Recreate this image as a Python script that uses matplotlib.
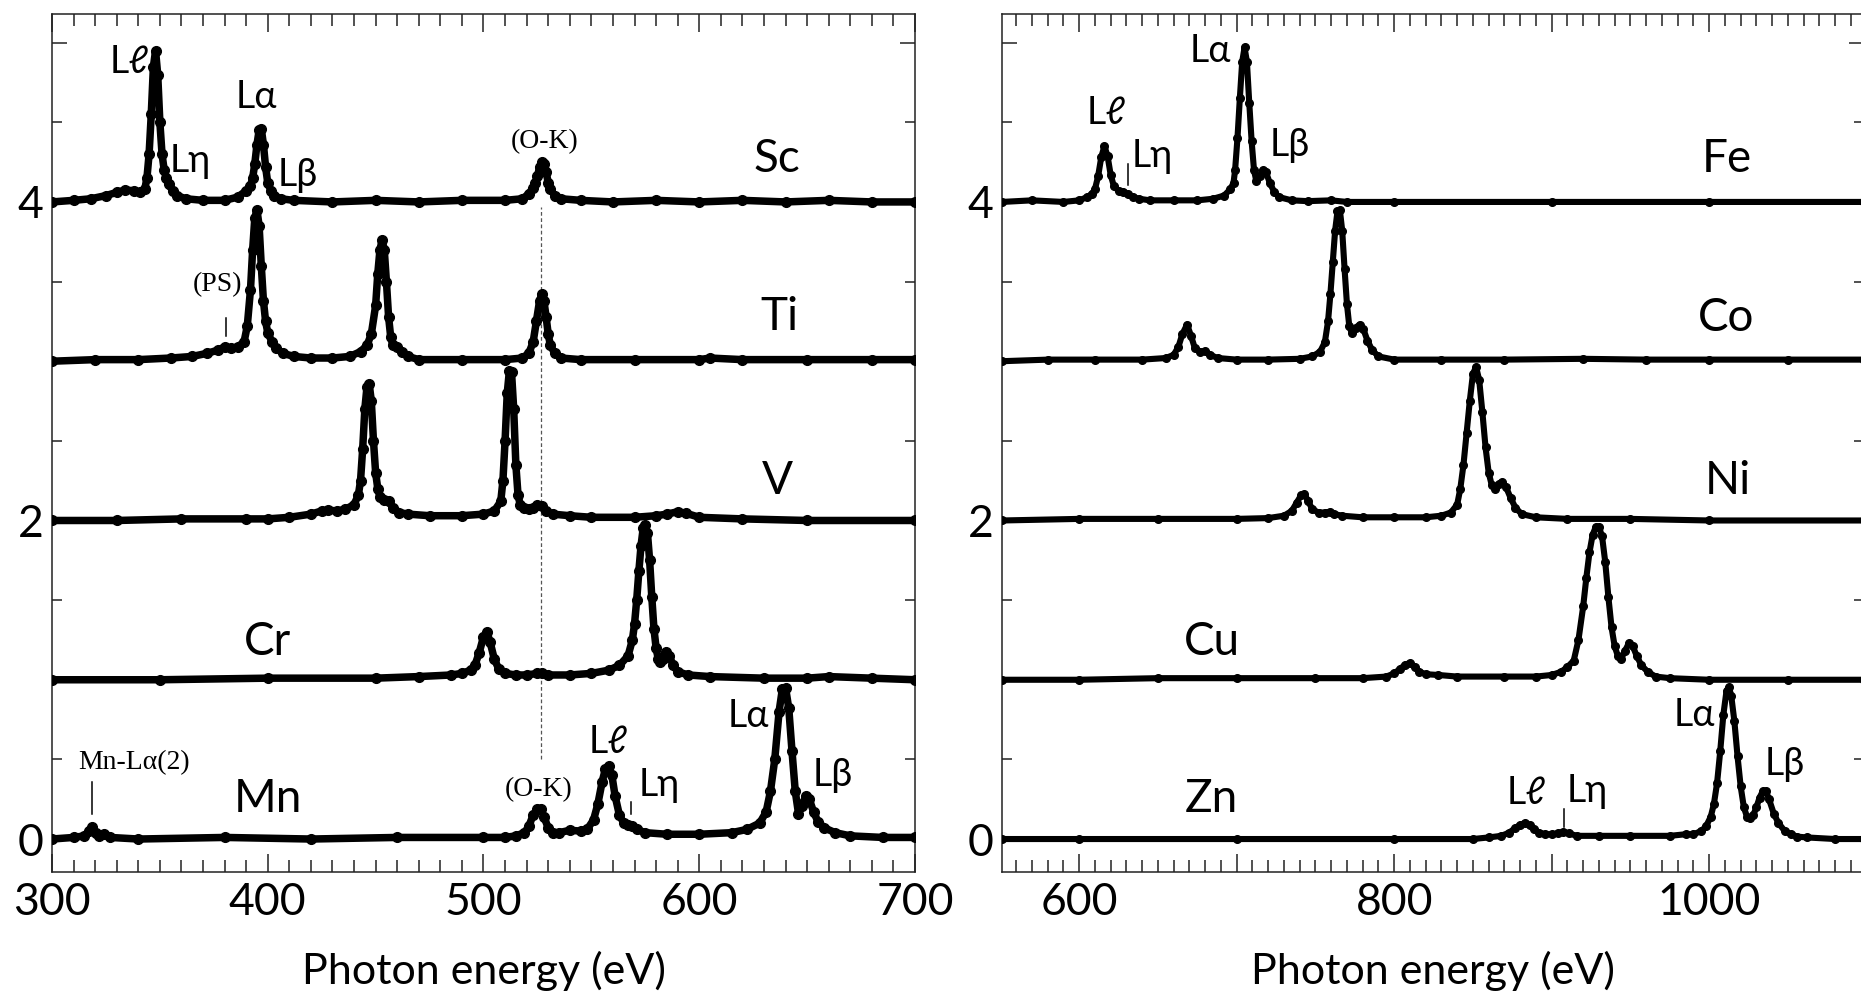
import matplotlib
matplotlib.use("Agg")
import matplotlib.pyplot as plt
from matplotlib.ticker import MultipleLocator, FuncFormatter

plt.rcParams["font.family"] = ["Lato", "DejaVu Sans"]
SERIF = ["Liberation Serif", "DejaVu Serif"]

# ---------------- left panel: Sc .. Mn (intensity above own baseline) ----------------
E_SC = [300, 310, 318, 325, 330, 334, 338, 341, 343, 344, 345, 346, 347, 348, 349, 350, 351, 352,
        353, 354, 356, 358, 362, 370, 380, 386, 390, 392, 393, 394, 395, 396, 397, 398, 399, 400,
        401.5, 403, 406, 412, 430, 450, 470, 490, 510, 518, 521, 523, 524, 525, 526, 527, 528, 529,
        530, 531, 533, 536, 545, 560, 580, 600, 620, 640, 660, 680, 700]
I_SC = [0.00, 0.01, 0.02, 0.04, 0.06, 0.075, 0.07, 0.06, 0.08, 0.15, 0.30, 0.55, 0.85, 0.95, 0.80,
        0.50, 0.30, 0.20, 0.15, 0.11, 0.07, 0.04, 0.02, 0.01, 0.01, 0.03, 0.07, 0.10, 0.15, 0.24,
        0.36, 0.45, 0.46, 0.36, 0.22, 0.12, 0.07, 0.04, 0.02, 0.01, 0.00, 0.01, 0.00, 0.01, 0.01,
        0.02, 0.05, 0.09, 0.12, 0.16, 0.22, 0.25, 0.24, 0.19, 0.12, 0.08, 0.04, 0.02, 0.01, 0.00,
        0.01, 0.00, 0.01, 0.00, 0.01, 0.00, 0.00]

E_TI = [300, 320, 340, 355, 365, 372, 377, 380, 383, 386, 389, 390.5, 392, 393, 394, 395, 396, 397,
        398, 399, 400, 402, 404, 407, 412, 420, 430, 438, 443, 446, 448, 450, 451, 452, 453, 454,
        455, 456, 457, 458, 460, 462, 465, 470, 490, 510, 518, 521, 523, 524.5, 526, 527, 528, 529,
        530, 531, 533, 536, 545, 570, 600, 605, 620, 650, 680, 700]
I_TI = [0.00, 0.01, 0.01, 0.02, 0.03, 0.05, 0.07, 0.09, 0.08, 0.09, 0.12, 0.22, 0.45, 0.70, 0.90,
        0.95, 0.85, 0.60, 0.38, 0.25, 0.18, 0.12, 0.08, 0.05, 0.03, 0.02, 0.02, 0.03, 0.06, 0.10,
        0.17, 0.35, 0.55, 0.70, 0.76, 0.70, 0.50, 0.28, 0.15, 0.10, 0.09, 0.06, 0.03, 0.01, 0.01,
        0.01, 0.02, 0.05, 0.12, 0.25, 0.38, 0.42, 0.38, 0.28, 0.17, 0.10, 0.05, 0.02, 0.01, 0.01,
        0.01, 0.02, 0.01, 0.01, 0.01, 0.01]

E_V = [300, 330, 360, 390, 400, 410, 420, 425, 428, 432, 436, 440, 442, 443, 444, 445, 446, 447,
       448, 449, 450, 451, 452, 454, 456, 458, 461, 465, 475, 490, 500, 505, 508, 509, 510, 511,
       512, 513, 514, 515, 516, 517, 519, 521, 523, 525, 527, 529, 532, 540, 550, 570, 580, 585,
       590, 594, 600, 620, 650, 700]
I_V = [0.00, 0.00, 0.01, 0.01, 0.01, 0.02, 0.04, 0.06, 0.065, 0.06, 0.07, 0.10, 0.16, 0.25, 0.45,
       0.70, 0.84, 0.86, 0.75, 0.50, 0.30, 0.20, 0.15, 0.13, 0.12, 0.08, 0.05, 0.04, 0.03, 0.03,
       0.04, 0.06, 0.12, 0.25, 0.50, 0.80, 0.94, 0.93, 0.70, 0.35, 0.16, 0.10, 0.08, 0.07, 0.08,
       0.095, 0.09, 0.06, 0.04, 0.03, 0.02, 0.02, 0.03, 0.04, 0.055, 0.045, 0.02, 0.01, 0.00, 0.00]

E_CR = [300, 350, 400, 450, 470, 485, 490, 494, 496, 498, 500, 501.5, 503, 505, 507, 510, 515, 520,
        525, 527, 530, 540, 550, 558, 563, 567, 569, 570, 571, 572, 573, 574, 575, 576, 577, 578,
        579, 580, 581, 582, 583, 584.5, 586, 588, 590, 595, 605, 630, 650, 660, 680, 700]
I_CR = [0.00, 0.00, 0.01, 0.01, 0.02, 0.03, 0.04, 0.06, 0.09, 0.17, 0.27, 0.30, 0.24, 0.13, 0.07,
        0.04, 0.03, 0.03, 0.04, 0.045, 0.03, 0.03, 0.04, 0.06, 0.09, 0.15, 0.25, 0.35, 0.50, 0.68,
        0.84, 0.95, 0.97, 0.92, 0.75, 0.52, 0.32, 0.20, 0.13, 0.11, 0.13, 0.175, 0.15, 0.09, 0.05,
        0.03, 0.02, 0.01, 0.01, 0.02, 0.01, 0.00]

E_MN = [300, 310, 315, 317, 318.7, 320.5, 322, 324, 327, 340, 380, 420, 460, 500, 510, 515, 519,
        521, 523, 525, 526.5, 528, 530, 532, 535, 540, 545, 548, 551, 553, 555, 556.5, 558, 559.5,
        561, 563, 565, 567, 569, 571, 575, 585, 600, 615, 622, 628, 631, 633, 635, 637, 638.5, 640,
        641.5, 643, 644.5, 646, 647.5, 649.5, 651, 653, 655, 658, 663, 670, 685, 700]
I_MN = [0.00, 0.01, 0.02, 0.05, 0.075, 0.04, 0.02, 0.03, 0.01, 0.00, 0.01, 0.00, 0.01, 0.01, 0.01,
        0.02, 0.04, 0.08, 0.15, 0.19, 0.19, 0.14, 0.07, 0.04, 0.04, 0.055, 0.05, 0.06, 0.12, 0.22,
        0.36, 0.44, 0.46, 0.40, 0.27, 0.15, 0.10, 0.085, 0.08, 0.06, 0.04, 0.03, 0.03, 0.04, 0.06,
        0.10, 0.17, 0.30, 0.50, 0.80, 0.94, 0.95, 0.82, 0.55, 0.30, 0.16, 0.21, 0.27, 0.25, 0.17,
        0.11, 0.07, 0.04, 0.02, 0.01, 0.01]

# ---------------- right panel: Fe .. Zn ----------------
E_FE = [551, 570, 590, 600, 605, 608, 610, 612, 614, 616, 618, 620, 622, 625, 628, 631, 634, 638,
        645, 660, 675, 685, 692, 696, 698, 699, 700.5, 702, 703.5, 705, 706.5, 708, 709.5, 711,
        712.5, 714.5, 716.5, 718.5, 721, 724, 727, 735, 745, 760, 770, 800, 900, 1000, 1098]
I_FE = [0.00, 0.01, 0.00, 0.01, 0.03, 0.05, 0.08, 0.16, 0.28, 0.35, 0.29, 0.17, 0.10, 0.07, 0.065,
        0.05, 0.03, 0.02, 0.01, 0.01, 0.01, 0.02, 0.04, 0.08, 0.12, 0.20, 0.40, 0.65, 0.88, 0.97,
        0.88, 0.62, 0.38, 0.20, 0.13, 0.16, 0.20, 0.19, 0.12, 0.06, 0.03, 0.01, 0.005, 0.01, 0.00,
        0.00, 0.00, 0.00, 0.00]

E_CO = [551, 580, 610, 640, 655, 660, 663, 665.5, 668.5, 671, 673.5, 677, 680, 683, 688, 700, 720,
        740, 748, 753, 756, 758, 759.5, 761, 762.5, 764, 765.5, 767, 768.5, 770, 771.5, 773, 775.5,
        778, 780.5, 783, 786, 790, 800, 830, 870, 920, 960, 1000, 1050, 1098]
I_CO = [0.00, 0.01, 0.01, 0.01, 0.02, 0.04, 0.09, 0.17, 0.23, 0.16, 0.08, 0.06, 0.065, 0.04, 0.02,
        0.01, 0.01, 0.015, 0.03, 0.06, 0.12, 0.25, 0.42, 0.62, 0.82, 0.94, 0.95, 0.82, 0.58, 0.36,
        0.22, 0.18, 0.21, 0.23, 0.20, 0.13, 0.07, 0.03, 0.01, 0.01, 0.01, 0.015, 0.01, 0.01, 0.01,
        0.01]

E_NI = [551, 600, 650, 700, 720, 730, 735, 738, 741, 743, 745.5, 748, 752, 756, 759, 762, 767, 780,
        800, 820, 830, 836, 840, 842, 844, 846, 848, 850, 852, 854, 856, 858, 860, 862, 864, 866.5,
        868.5, 871, 874, 877, 881, 890, 910, 950, 1000, 1098]
I_NI = [0.00, 0.01, 0.01, 0.01, 0.015, 0.03, 0.06, 0.11, 0.16, 0.165, 0.12, 0.07, 0.05, 0.05, 0.055,
        0.04, 0.03, 0.02, 0.02, 0.02, 0.03, 0.05, 0.10, 0.20, 0.35, 0.55, 0.75, 0.92, 0.965, 0.88,
        0.68, 0.46, 0.30, 0.22, 0.20, 0.23, 0.243, 0.21, 0.14, 0.08, 0.04, 0.02, 0.01, 0.01, 0.00,
        0.00]

E_CU = [551, 600, 650, 700, 750, 780, 795, 800, 804, 807, 810, 813, 816, 820, 828, 840, 870, 890,
        900, 906, 910, 914, 917, 920, 922, 924, 926, 928, 930, 932, 934, 936, 938, 940, 942, 944,
        946.5, 949, 951.5, 954, 957, 961, 966, 975, 1000, 1050, 1098]
I_CU = [0.00, 0.00, 0.01, 0.01, 0.01, 0.01, 0.02, 0.04, 0.07, 0.095, 0.105, 0.08, 0.05, 0.035,
        0.03, 0.02, 0.02, 0.02, 0.03, 0.05, 0.08, 0.12, 0.25, 0.46, 0.64, 0.80, 0.91, 0.96, 0.96,
        0.90, 0.74, 0.52, 0.33, 0.21, 0.15, 0.13, 0.18, 0.23, 0.21, 0.15, 0.09, 0.05, 0.02, 0.01,
        0.00, 0.00, 0.00]

E_ZN = [551, 600, 700, 800, 850, 860, 868, 873, 877, 880, 883, 886, 889, 892, 896, 900, 904, 907.5,
        911, 916, 930, 950, 975, 985, 990, 995, 998, 1001, 1003, 1005, 1007, 1009, 1011, 1012.5,
        1014, 1016, 1018, 1020, 1022, 1024, 1026, 1028, 1030, 1032, 1034, 1036, 1038, 1041, 1044,
        1048, 1052, 1056, 1062, 1080, 1098]
I_ZN = [0.00, 0.00, 0.00, 0.00, 0.00, 0.01, 0.02, 0.04, 0.07, 0.09, 0.10, 0.085, 0.06, 0.04, 0.03,
        0.03, 0.035, 0.046, 0.035, 0.02, 0.02, 0.02, 0.02, 0.03, 0.03, 0.05, 0.08, 0.14, 0.22, 0.35,
        0.55, 0.78, 0.93, 0.955, 0.90, 0.74, 0.52, 0.33, 0.20, 0.14, 0.13, 0.15, 0.20, 0.26, 0.30,
        0.30, 0.25, 0.16, 0.10, 0.05, 0.03, 0.015, 0.01, 0.00, 0.00]

LEFT_NAMES = ["Sc", "Ti", "V", "Cr", "Mn"]
LEFT_E = [E_SC, E_TI, E_V, E_CR, E_MN]
LEFT_I = [I_SC, I_TI, I_V, I_CR, I_MN]
RIGHT_NAMES = ["Fe", "Co", "Ni", "Cu", "Zn"]
RIGHT_E = [E_FE, E_CO, E_NI, E_CU, E_ZN]
RIGHT_I = [I_FE, I_CO, I_NI, I_CU, I_ZN]
OFFSETS = [4, 3, 2, 1, 0]

# element name positions (eV, y)
LEFT_NAME_POS = [(636, 4.27), (637, 3.28), (636, 2.25), (400, 1.24), (400, 0.25)]
RIGHT_NAME_POS = [(1011, 4.27), (1011, 3.27), (1012, 2.25), (684, 1.24), (684, 0.25)]

# peak annotations: (text, eV, y, serif?)
LEFT_NOTES = [("Lℓ", 336, 4.88, False), ("Lη", 364, 4.26, False), ("Lα", 394.5, 4.66, False),
              ("Lβ", 413.8, 4.17, False), ("(O-K)", 528.3, 4.38, True), ("(PS)", 376.6, 3.48, True),
              ("Mn-Lα(2)", 338, 0.48, True), ("(O-K)", 525.6, 0.31, True),
              ("Lℓ", 557.7, 0.61, False), ("Lη", 581.5, 0.34, False), ("Lα", 623, 0.77, False),
              ("Lβ", 662, 0.40, False)]
RIGHT_NOTES = [("Lℓ", 617.3, 4.56, False), ("Lη", 646.5, 4.29, False), ("Lα", 683.5, 4.95, False),
               ("Lβ", 734, 4.36, False), ("Lℓ", 884, 0.29, False), ("Lη", 922.5, 0.30, False),
               ("Lα", 990.5, 0.78, False), ("Lβ", 1048, 0.47, False)]
# short vertical marker lines: (eV, y0, y1)
LEFT_MARKS = [(380.7, 3.16, 3.27), (318.7, 0.16, 0.36), (568.5, 0.16, 0.23)]
RIGHT_MARKS = [(630.8, 4.105, 4.24), (907.6, 0.077, 0.19)]

W, H = 1861, 993
fig = plt.figure(figsize=(W / 100, H / 100), dpi=100)
ax1 = fig.add_axes([52 / W, 121 / H, 863 / W, 858 / H])
ax2 = fig.add_axes([1002 / W, 121 / H, 862 / W, 858 / H])


def style_axis(ax, xlim, label_every):
    ax.set_xlim(*xlim)
    ax.set_ylim(-0.207, 5.18)
    ax.xaxis.set_major_locator(MultipleLocator(100))
    ax.xaxis.set_minor_locator(MultipleLocator(10))
    ax.yaxis.set_major_locator(MultipleLocator(1))
    ax.yaxis.set_minor_locator(MultipleLocator(0.5))
    ax.xaxis.set_major_formatter(
        FuncFormatter(lambda v, p: f"{v:.0f}" if round(v) % label_every == 0 else ""))
    ax.yaxis.set_major_formatter(
        FuncFormatter(lambda v, p: f"{v:.0f}" if round(v) % 2 == 0 else ""))
    ax.tick_params(which="both", direction="in", top=True, right=True, width=1.1,
                   color="#222222", labelsize=32)
    ax.tick_params(which="major", length=13)
    ax.tick_params(which="minor", length=8.5)
    ax.tick_params(axis="y", which="major", length=10.5, pad=6)
    ax.tick_params(axis="y", which="minor", length=7)
    ax.tick_params(axis="x", pad=7)
    for s in ax.spines.values():
        s.set_linewidth(1.1)
        s.set_color("#222222")
    ax.set_xlabel("Photon energy (eV)", fontsize=31, labelpad=20)


style_axis(ax1, (300, 700), 100)
style_axis(ax2, (551, 1098.3), 200)

# O-K guide line
ax1.plot([526.5, 526.5], [0.5, 3.97], color="#555555", lw=0.9, ls=(0, (3, 2)), zorder=1)

for E, I, off in zip(LEFT_E, LEFT_I, OFFSETS):
    ax1.plot(E, [v + off for v in I], color="k", lw=5.4, marker="o", ms=7,
             solid_capstyle="round", solid_joinstyle="round", zorder=3)
for E, I, off in zip(RIGHT_E, RIGHT_I, OFFSETS):
    ax2.plot(E, [v + off for v in I], color="k", lw=4.4, marker="o", ms=5.5,
             solid_capstyle="round", solid_joinstyle="round", zorder=3)

for ax, names, pos in ((ax1, LEFT_NAMES, LEFT_NAME_POS), (ax2, RIGHT_NAMES, RIGHT_NAME_POS)):
    for name, (x, y) in zip(names, pos):
        ax.text(x, y, name, fontsize=33, ha="center", va="center")

for ax, notes in ((ax1, LEFT_NOTES), (ax2, RIGHT_NOTES)):
    for txt, x, y, serif in notes:
        if serif:
            ax.text(x, y, txt, fontsize=20, ha="center", va="center", family=SERIF)
        else:
            ax.text(x, y, txt, fontsize=27, ha="center", va="center")

for ax, marks in ((ax1, LEFT_MARKS), (ax2, RIGHT_MARKS)):
    for x, y0, y1 in marks:
        ax.plot([x, x], [y0, y1], color="k", lw=1.1, zorder=2)

fig.savefig("out.png", dpi=100)
